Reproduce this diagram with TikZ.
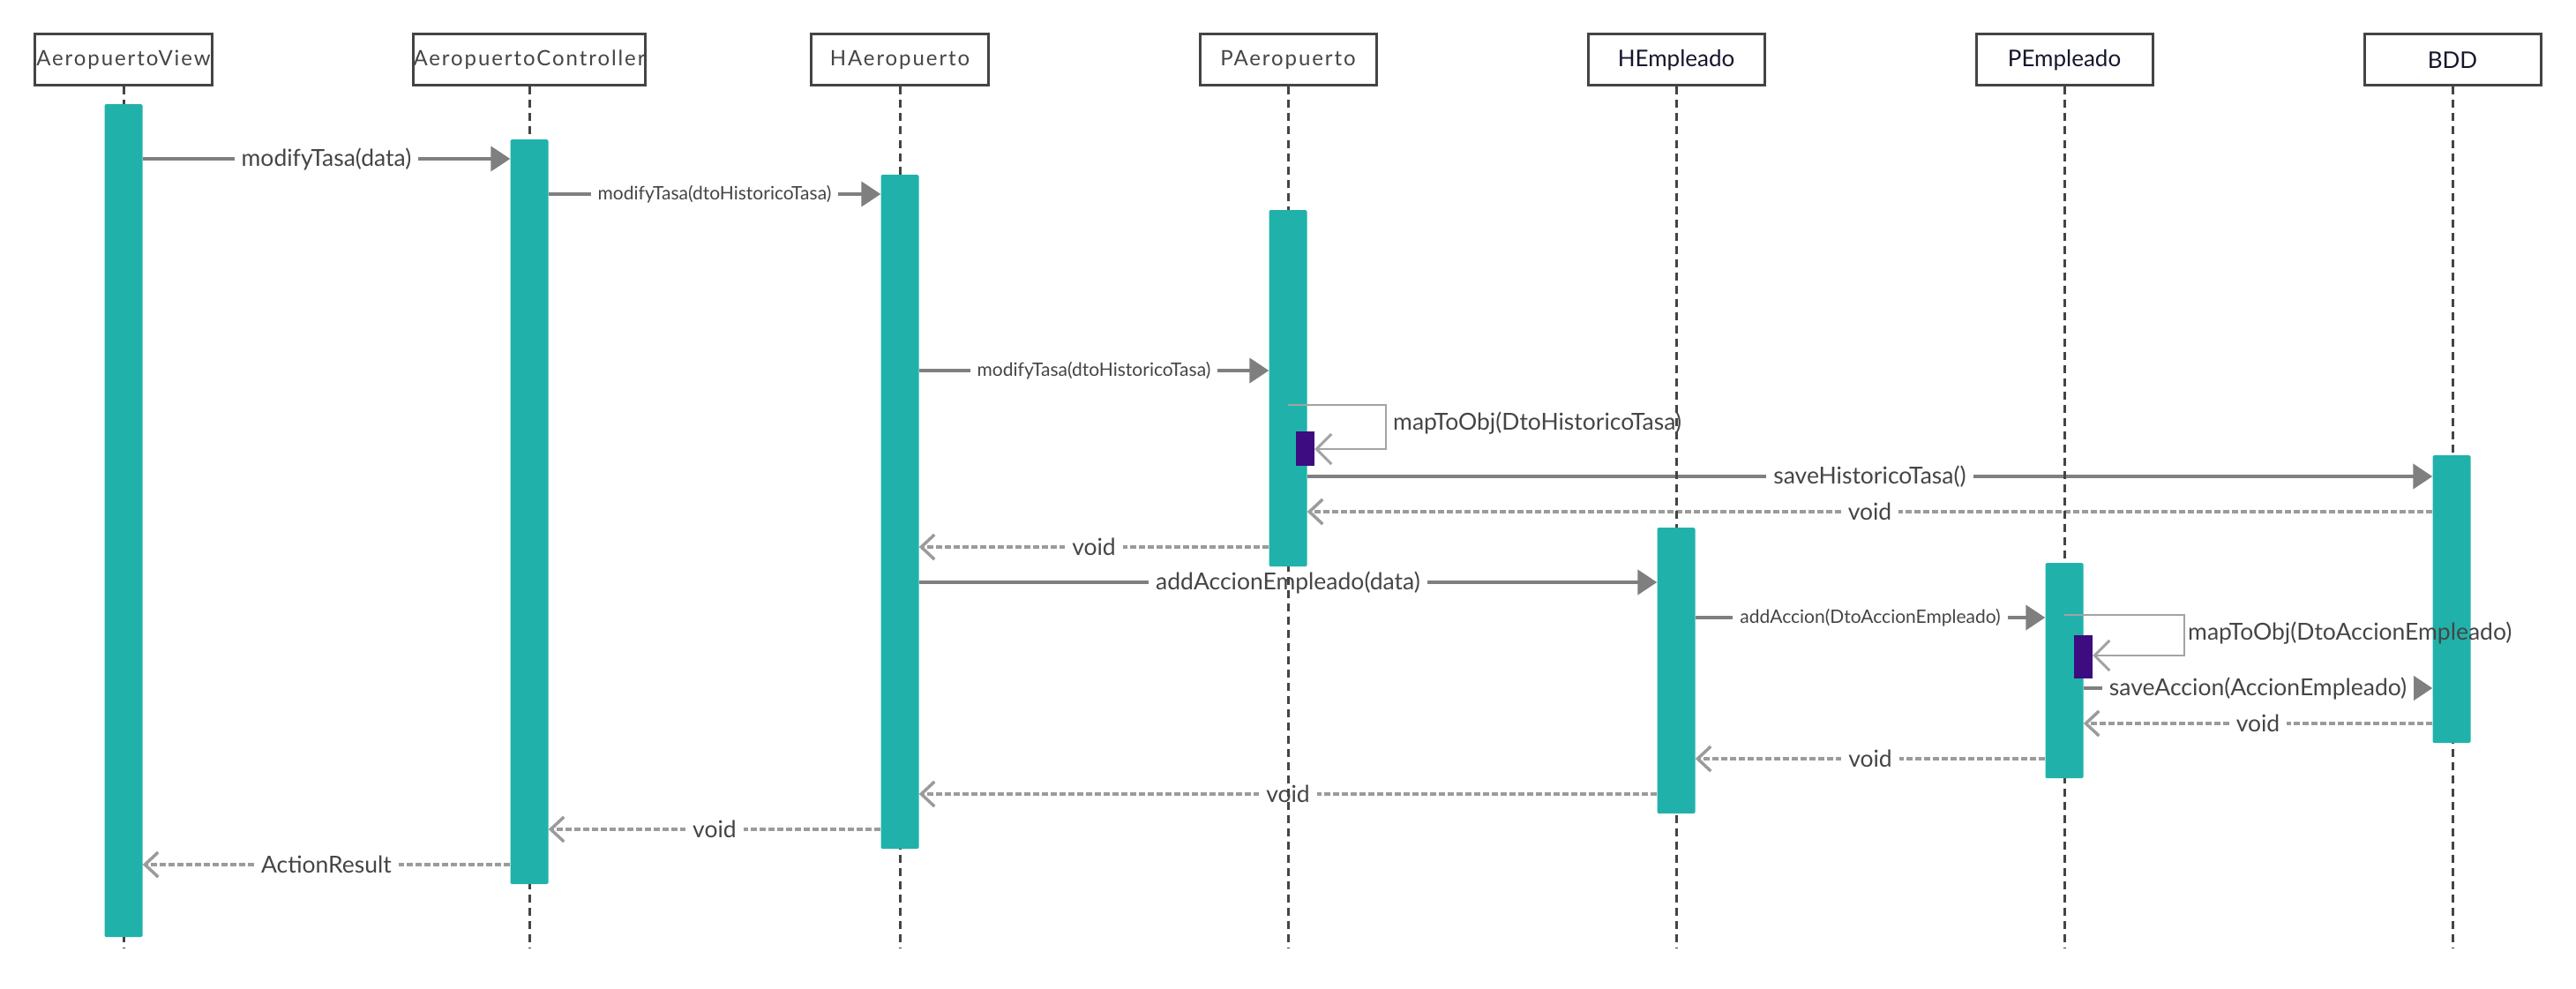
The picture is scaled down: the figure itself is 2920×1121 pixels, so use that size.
\documentclass[tikz,border=0pt]{standalone}
\usepackage{fontspec}
\setmainfont{Lato}
\newfontfamily\headfont[LetterSpace=8]{Lato}
\usetikzlibrary{arrows.meta}

\definecolor{barteal}{HTML}{20B2AA}
\definecolor{barpurple}{HTML}{3C0C80}
\definecolor{msggray}{HTML}{7F7F7F}
\definecolor{retgray}{HTML}{9B9B9B}
\definecolor{loopgray}{HTML}{A3A3A3}
\definecolor{lifegray}{HTML}{444444}
\definecolor{txtgray}{HTML}{454545}
\definecolor{headnavy}{HTML}{16162C}

\pgfdeclarelayer{msgs}
\pgfdeclarelayer{lines}
\pgfdeclarelayer{top}
\pgfsetlayers{msgs,lines,main,top}

\tikzset{
  headbox/.style={draw=lifegray, line width=3pt, fill=white, minimum height=58pt,
    inner sep=0pt, text=txtgray, font=\headfont\fontsize{24}{28}\selectfont},
  headboxr/.style={headbox, text=headnavy, font=\fontsize{26}{30}\selectfont},
  act/.style={fill=barteal, draw=none, minimum width=43pt, inner sep=0pt,
    anchor=north, rounded corners=1.5pt},
  selfact/.style={fill=barpurple, draw=none, minimum width=21pt, inner sep=0pt, anchor=north},
  lifeline/.style={draw=lifegray, line width=3pt, dash pattern=on 9pt off 6pt},
  msg/.style={draw=msggray, line width=4pt, -{Triangle[length=22pt,width=28pt]}},
  ret/.style={draw=retgray, line width=3.5pt, dash pattern=on 7pt off 3pt,
    -{Straight Barb[length=15pt,width=28pt]}},
  selfmsg/.style={draw=loopgray, line width=2.5pt,
    -{Straight Barb[length=17pt,width=34pt,line width=3pt]}},
  mlabel/.style={fill=white, text=txtgray, inner xsep=8pt, inner ysep=3pt,
    font=\fontsize{26.5}{30}\selectfont},
  slabel/.style={mlabel, font=\fontsize{21}{25}\selectfont},
  looplabel/.style={anchor=west, text=txtgray, inner sep=0pt, font=\fontsize{26.5}{30}\selectfont}
}

\begin{document}
\begin{tikzpicture}[x=1pt, y=-1pt]
\useasboundingbox (0,0) rectangle (2920,1121);

% participants
\node[headbox, minimum width=201pt]  (hv)  at (140,68)  {AeropuertoView};
\node[headbox, minimum width=240pt]  (hc)  at (600,68)  {AeropuertoController};
\node[headbox, minimum width=201pt]  (hha) at (1020,68) {HAeropuerto};
\node[headbox, minimum width=200pt]  (hpa) at (1460,68) {PAeropuerto};
\node[headboxr, minimum width=200pt] (hhe) at (1900,68) {HEmpleado};
\node[headboxr, minimum width=200pt] (hpe) at (2340,68) {PEmpleado};
\node[headboxr, minimum width=200pt] (hbd) at (2780,68) {BDD};

% activation bars
\node[act, minimum height=944pt] (b1) at (140,118)  {};
\node[act, minimum height=844pt] (b2) at (600,158)  {};
\node[act, minimum height=764pt] (b3) at (1020,198) {};
\node[act, minimum height=404pt] (b4) at (1460,238) {};
\node[act, minimum height=326pt] (b5) at (2779,516) {};
\node[act, minimum height=324pt] (b6) at (1900,598) {};
\node[act, minimum height=244pt] (b7) at (2340,638) {};

% message levels
\coordinate (m1)  at (0,180);
\coordinate (m2)  at (0,220);
\coordinate (m3)  at (0,420);
\coordinate (m5)  at (0,540);
\coordinate (m6)  at (0,580);
\coordinate (m7)  at (0,620);
\coordinate (m8)  at (0,660);
\coordinate (m9)  at (0,700);
\coordinate (m11) at (0,780);
\coordinate (m12) at (0,820);
\coordinate (m13) at (0,860);
\coordinate (m14) at (0,900);
\coordinate (m15) at (0,940);
\coordinate (m16) at (0,980);
\coordinate (lend) at (0,1075);

\begin{pgfonlayer}{msgs}
\draw[msg] (b1.east |- m1) -- node[mlabel] {modifyTasa(data)} (b2.west |- m1);
\draw[msg] (b2.east |- m2) -- node[slabel] {modifyTasa(dtoHistoricoTasa)} (b3.west |- m2);
\draw[msg] (b3.east |- m3) -- node[slabel] {modifyTasa(dtoHistoricoTasa)} (b4.west |- m3);
\draw[msg] (b4.east |- m5) -- node[mlabel] {saveHistoricoTasa()} (b5.west |- m5);
\draw[ret] (b5.west |- m6) -- node[mlabel] {void} (b4.east |- m6);
\draw[ret] (b4.west |- m7) -- node[mlabel] {void} (b3.east |- m7);
\draw[msg] (b3.east |- m8) -- node[mlabel] {addAccionEmpleado(data)} (b6.west |- m8);
\draw[msg] (b6.east |- m9) -- node[slabel] {addAccion(DtoAccionEmpleado)} (b7.west |- m9);
\draw[msg] (b7.east |- m11) -- node[mlabel] {saveAccion(AccionEmpleado)} (b5.west |- m11);
\draw[ret] (b5.west |- m12) -- node[mlabel] {void} (b7.east |- m12);
\draw[ret] (b7.west |- m13) -- node[mlabel] {void} (b6.east |- m13);
\draw[ret] (b6.west |- m14) -- node[mlabel] {void} (b3.east |- m14);
\draw[ret] (b3.west |- m15) -- node[mlabel] {void} (b2.east |- m15);
\draw[ret] (b2.west |- m16) -- node[mlabel] {ActionResult} (b1.east |- m16);
\end{pgfonlayer}

% lifelines
\begin{pgfonlayer}{lines}
\foreach \h in {hv,hc,hha,hpa,hhe,hpe,hbd}
  \draw[lifeline] (\h.south) -- (\h.south |- lend);
\end{pgfonlayer}

% self calls
\begin{pgfonlayer}{top}
\node[selfact, minimum height=39pt] (p1) at (1479.5,489) {};
\node[selfact, minimum height=49pt] (p2) at (2361.5,720) {};
\coordinate (s1a) at (1571,459);
\coordinate (s1b) at (1571,509);
\coordinate (s2a) at (2476,697);
\coordinate (s2b) at (2476,743);
\draw[selfmsg] (b4.center |- s1a) -- (s1a) -- (s1b) -- (p1.east |- s1b);
\draw[selfmsg] (b7.center |- s2a) -- (s2a) -- (s2b) -- (p2.east |- s2b);
\node[looplabel] (t1) at (1579,480) {mapToObj(DtoHistoricoTasa)};
\node[looplabel] (t2) at (2480,718) {mapToObj(DtoAccionEmpleado)};
\end{pgfonlayer}
\end{tikzpicture}
\end{document}
